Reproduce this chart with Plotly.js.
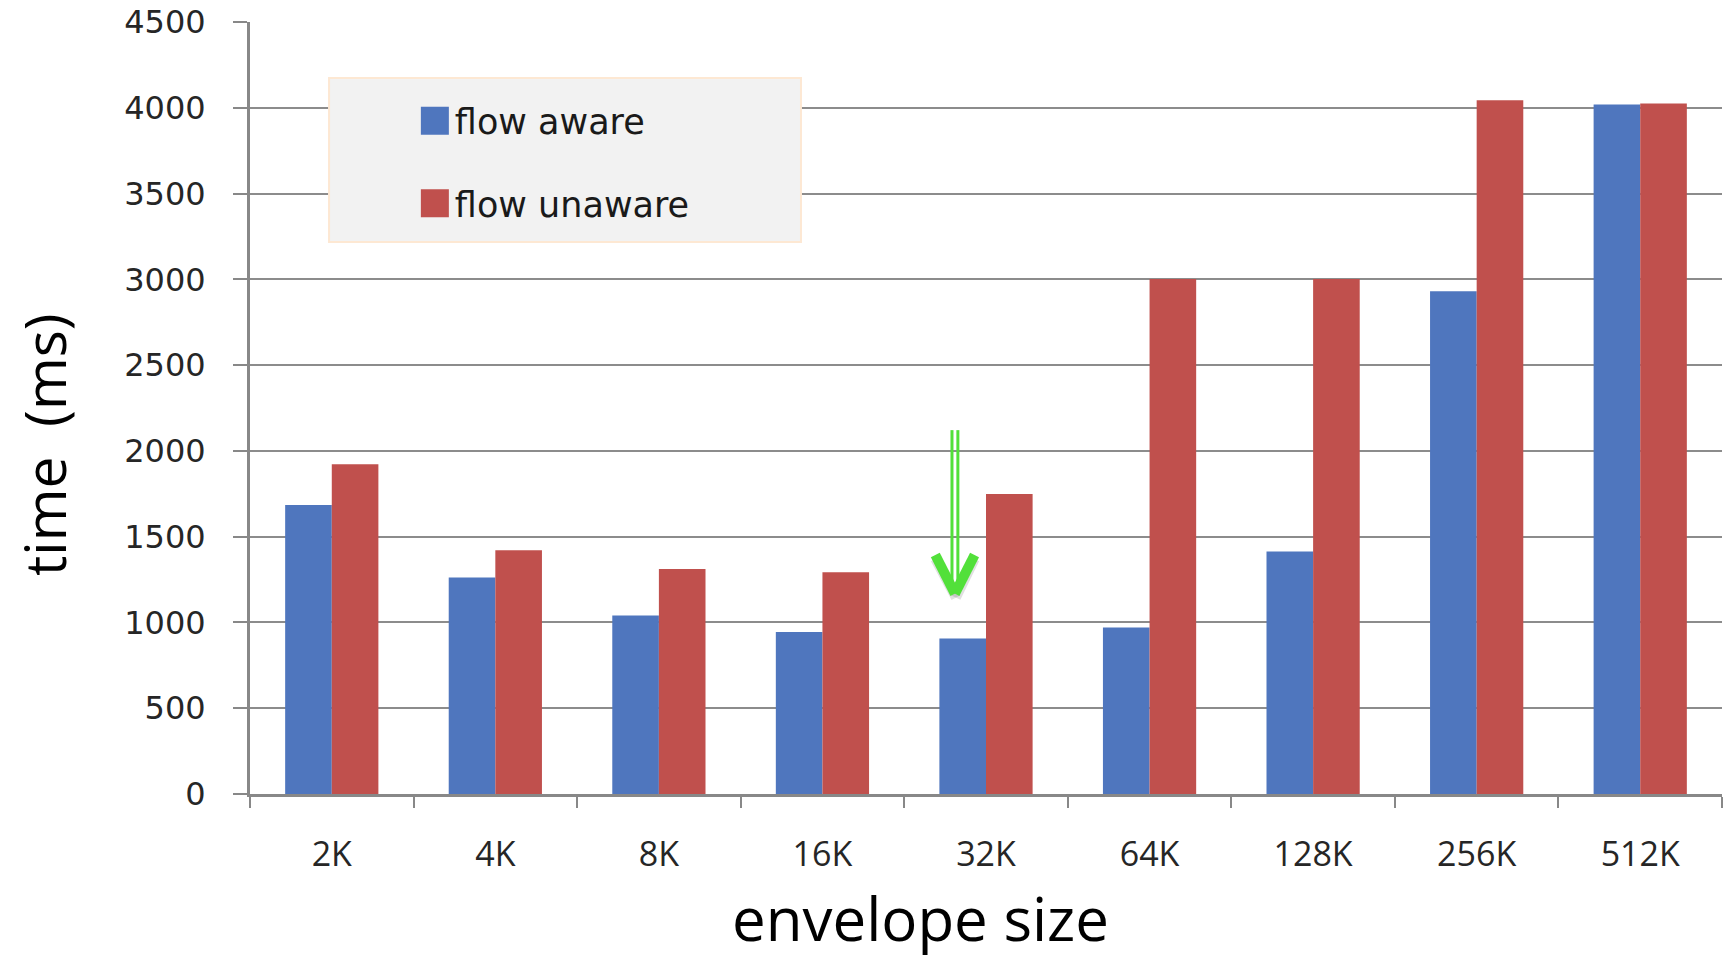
<!DOCTYPE html>
<html>
<head>
<meta charset="utf-8">
<script src="https://cdn.plot.ly/plotly-3.0.1.min.js"></script>
<style>html,body{margin:0;padding:0;background:#fff;}#chart{width:1730px;height:960px;}</style>
</head>
<body>
<div id="chart"></div>
<script>
const categories = ["2K", "4K", "8K", "16K", "32K", "64K", "128K", "256K", "512K"];
const flowAware = [1685, 1262, 1041, 945, 906, 971, 1414, 2931, 4019];
const flowUnaware = [1922, 1421, 1311, 1292, 1749, 3002, 3002, 4044, 4025];
const seriesNames = ["flow aware", "flow unaware"];
const yTicks = [0, 500, 1000, 1500, 2000, 2500, 3000, 3500, 4000, 4500];

const blue = "#4F76BE", red = "#C0504D", green = "#52E03A";
const traces = [
  {type: "bar", name: seriesNames[0], x: categories, y: flowAware, marker: {color: blue}, legendgroup: "a"},
  {type: "bar", name: seriesNames[1], x: categories, y: flowUnaware, marker: {color: red}, legendgroup: "b"}
];

// arrow above the 32K "flow aware" bar (category index 4)
const ax = 3.81;
const shapes = [
  {type: "rect", xref: "paper", yref: "paper", x0: 0.0537, x1: 0.3743, y0: 0.715, y1: 0.9275,
   fillcolor: "#f2f2f2", line: {color: "#fde8d3", width: 2}, layer: "above"},
  // soft shadow
  {type: "line", xref: "x", yref: "y", x0: ax - 0.12, y0: 1370, x1: ax + 0.006, y1: 1145, line: {color: "rgba(0,0,0,0.12)", width: 10}, layer: "above"},
  {type: "line", xref: "x", yref: "y", x0: ax + 0.12, y0: 1370, x1: ax + 0.006, y1: 1145, line: {color: "rgba(0,0,0,0.12)", width: 10}, layer: "above"},
  {type: "line", xref: "x", yref: "y", x0: ax - 0.018, y0: 2121, x1: ax - 0.018, y1: 1240, line: {color: green, width: 3}, layer: "above"},
  {type: "line", xref: "x", yref: "y", x0: ax + 0.018, y0: 2121, x1: ax + 0.018, y1: 1240, line: {color: green, width: 3}, layer: "above"},
  {type: "line", xref: "x", yref: "y", x0: ax - 0.12, y0: 1393, x1: ax, y1: 1168, line: {color: green, width: 10}, layer: "above"},
  {type: "line", xref: "x", yref: "y", x0: ax + 0.12, y0: 1393, x1: ax, y1: 1168, line: {color: green, width: 10}, layer: "above"}
];

const layout = {
  width: 1730, height: 960,
  margin: {l: 250, r: 8, t: 22, b: 166},
  paper_bgcolor: "#ffffff", plot_bgcolor: "#ffffff",
  barmode: "group", bargap: 0.43, bargroupgap: 0,
  showlegend: true,
  legend: {x: 0.112, xanchor: "left", y: 0.91, yanchor: "top", bgcolor: "rgba(0,0,0,0)", borderwidth: 0,
           traceorder: "grouped", tracegroupgap: 34,
           font: {family: "DejaVu Sans", size: 35, color: "#1a1a1a"}},
  xaxis: {type: "category", showline: true, linecolor: "#888888", linewidth: 3,
          ticks: "outside", tickson: "boundaries", ticklen: 11, tickwidth: 2, tickcolor: "#888888",
          showgrid: false, zeroline: false, ticklabelstandoff: 28,
          tickfont: {family: "Open Sans", size: 34, color: "#262626"}},
  yaxis: {range: [0, 4500], tickvals: yTicks, ticktext: yTicks.map(String),
          showline: true, linecolor: "#888888", linewidth: 3,
          ticks: "outside", ticklen: 14, tickwidth: 2, tickcolor: "#888888",
          showgrid: true, gridcolor: "#8c8c8c", gridwidth: 2, zeroline: false,
          ticklabelstandoff: 21,
          tickfont: {family: "DejaVu Sans", size: 32, color: "#262626"}},
  shapes: shapes,
  annotations: [
    {text: "envelope size", xref: "paper", yref: "paper", x: (920 - 250) / 1472, y: (794 - 918) / 772,
     xanchor: "center", yanchor: "middle", showarrow: false,
     font: {family: "Open Sans", size: 60, color: "#000000"}},
    {text: "time  (ms)", xref: "paper", yref: "paper", x: (44 - 250) / 1472, y: (794 - 444) / 772,
     xanchor: "center", yanchor: "middle", showarrow: false, textangle: -90,
     font: {family: "Open Sans", size: 57, color: "#000000"}}
  ]
};

Plotly.newPlot("chart", traces, layout, {displayModeBar: false, staticPlot: true}).then(function (gd) {
  gd.querySelectorAll(".legendpoints path").forEach(function (p) {
    p.setAttribute("d", "M14,14H-14V-14H14Z");
  });
});
</script>
</body>
</html>
